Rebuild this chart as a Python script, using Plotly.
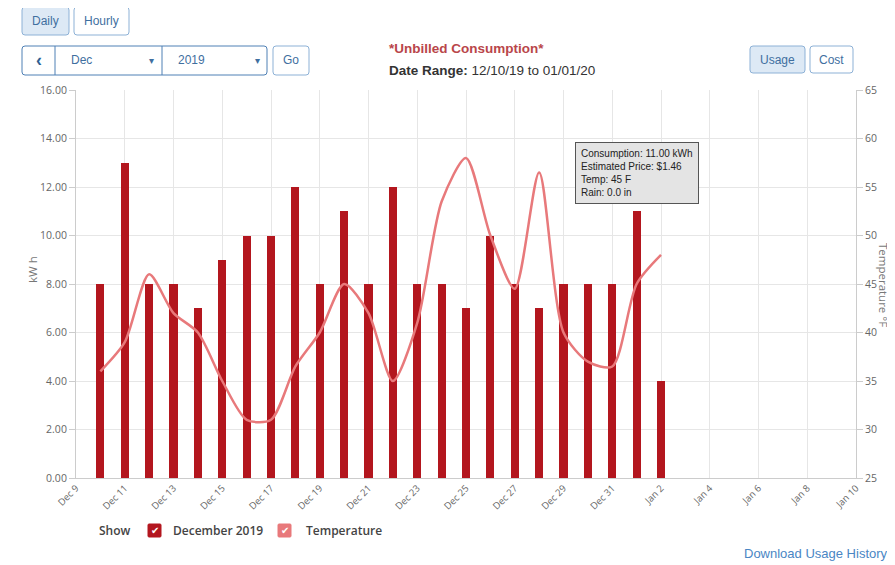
import plotly.graph_objects as go

# ---------------- data ----------------
dates = ["2019-12-10", "2019-12-11", "2019-12-12", "2019-12-13", "2019-12-14", "2019-12-15",
         "2019-12-16", "2019-12-17", "2019-12-18", "2019-12-19", "2019-12-20", "2019-12-21",
         "2019-12-22", "2019-12-23", "2019-12-24", "2019-12-25", "2019-12-26", "2019-12-27",
         "2019-12-28", "2019-12-29", "2019-12-30", "2019-12-31", "2020-01-01", "2020-01-02"]
usage_kwh = [8, 13, 8, 8, 7, 9, 10, 10, 12, 8, 11, 8, 12, 8, 8, 7, 10, 8, 7, 8, 8, 8, 11, 4]
temp_f = [36, 39, 46, 42, 40, 35, 31, 31, 36.5, 40, 45, 42, 35, 41, 53.5, 58, 50, 44.5, 56.5,
          40, 37, 36.5, 45, 48]

tick_dates = ["2019-12-09", "2019-12-11", "2019-12-13", "2019-12-15", "2019-12-17", "2019-12-19",
              "2019-12-21", "2019-12-23", "2019-12-25", "2019-12-27", "2019-12-29", "2019-12-31",
              "2020-01-02", "2020-01-04", "2020-01-06", "2020-01-08", "2020-01-10"]
tick_labels = ["Dec 9", "Dec 11", "Dec 13", "Dec 15", "Dec 17", "Dec 19", "Dec 21", "Dec 23",
               "Dec 25", "Dec 27", "Dec 29", "Dec 31", "Jan 2", "Jan 4", "Jan 6", "Jan 8", "Jan 10"]
kwh_ticks = [0, 2, 4, 6, 8, 10, 12, 14, 16]
temp_ticks = [25, 30, 35, 40, 45, 50, 55, 60, 65]

series_name = "December 2019"
temp_name = "Temperature"
tooltip_index = 22          # Jan 1
tooltip_price = 1.46
tooltip_rain = 0.0

# ---------------- layout helpers ----------------
OFF = 8                      # page body margin
W_PX, H_PX = 895 - OFF, 565 - OFF
L, R, T, B = 76, 856, 90, 478   # plot area in window pixels


def px(x):
    return (x - L) / (R - L)


def py(y):
    return (B - y) / (B - T)


BAR_COLOR = "#b3161e"
LINE_COLOR = "#e8797b"
GRID = "#e6e6e6"
AXIS = "#cccccc"
TICK_FONT = dict(family="Open Sans", size=10.5, color="#666666")

fig = go.Figure()

fig.add_trace(go.Bar(
    x=dates, y=usage_kwh, name=series_name,
    marker=dict(color=BAR_COLOR, line=dict(width=0)),
    width=0.33 * 86400000, yaxis="y", showlegend=False,
))
fig.add_trace(go.Scatter(
    x=dates, y=temp_f, name=temp_name, mode="lines",
    line=dict(color=LINE_COLOR, width=2.5, shape="spline", smoothing=0.75),
    yaxis="y2", showlegend=False,
))

shapes = []
annotations = []


def rrect(x0, y0, x1, y1, fill, line, r=3, lw=1):
    a0, a1 = px(x0), px(x1)
    b0, b1 = py(y0), py(y1)  # b0 top, b1 bottom
    rx = r / (R - L)
    ry = r / (B - T)
    path = (f"M{a0+rx},{b0} L{a1-rx},{b0} Q{a1},{b0} {a1},{b0-ry} "
            f"L{a1},{b1+ry} Q{a1},{b1} {a1-rx},{b1} L{a0+rx},{b1} "
            f"Q{a0},{b1} {a0},{b1+ry} L{a0},{b0-ry} Q{a0},{b0} {a0+rx},{b0} Z")
    shapes.append(dict(type="path", xref="paper", yref="paper", path=path,
                       fillcolor=fill, line=dict(color=line, width=lw), layer="above"))


def text(x, y, s, size=12, color="#333", family="Liberation Sans", xanchor="center",
         weight="normal", angle=0):
    annotations.append(dict(xref="paper", yref="paper", x=px(x), y=py(y), text=s,
                            showarrow=False, xanchor=xanchor, yanchor="middle",
                            textangle=angle,
                            font=dict(size=size, color=color, family=family, weight=weight)))


# top buttons
rrect(22, 7, 69, 35, "#dde9f5", "#8db1d6")
text(45.5, 21, "Daily", 12, "#3f6f9f")
rrect(74, 7, 129, 35, "#ffffff", "#8db1d6")
text(101.5, 21, "Hourly", 12, "#3f6f9f")

# navigation row
rrect(22, 46, 267, 75, "#ffffff", "#4f80b5")
shapes.append(dict(type="line", xref="paper", yref="paper", x0=px(55), x1=px(55),
                   y0=py(46), y1=py(75), line=dict(color="#4f80b5", width=1)))
shapes.append(dict(type="line", xref="paper", yref="paper", x0=px(162), x1=px(162),
                   y0=py(46), y1=py(75), line=dict(color="#4f80b5", width=1)))
text(38.5, 60, "<b>&#8249;</b>", 18, "#2f5f92")
text(69, 60, "Dec", 12, "#3f6f9f", xanchor="left")
text(151, 60, "▾", 10, "#3f6f9f")
text(176, 60, "2019", 12, "#3f6f9f", xanchor="left")
text(257, 60, "▾", 10, "#3f6f9f")
rrect(273, 46, 309, 75, "#ffffff", "#8db1d6")
text(291, 60, "Go", 12, "#3f6f9f")

# title block
text(387, 49, "<b>*Unbilled Consumption*</b>", 13.5, "#b9464a", xanchor="left")
text(387, 71, "<b>Date Range:</b> 12/10/19 to 01/01/20", 13.5, "#333333", xanchor="left")

# usage / cost
rrect(750, 46, 805, 73, "#dde9f5", "#8db1d6")
text(777.5, 60, "Usage", 12, "#3f6f9f")
rrect(810, 46, 853, 73, "#ffffff", "#8db1d6")
text(831.5, 60, "Cost", 12, "#3f6f9f")

# axis titles
text(32, 270, "kW h", 11.5, "#777777", family="Open Sans", angle=-90)
text(884, 285, "Temperature °F", 11.5, "#777777", family="Open Sans", angle=90)

# legend row
text(97, 530, "Show", 12, "#444444", family="Open Sans", xanchor="left", weight=600)
rrect(148, 524, 161, 537, BAR_COLOR, BAR_COLOR, r=1)
text(154.5, 530.5, "✔", 10, "#ffffff", family="DejaVu Sans")
text(171, 530, series_name, 12, "#444444", family="Open Sans", xanchor="left", weight=600)
rrect(278, 524, 291, 537, LINE_COLOR, LINE_COLOR, r=1)
text(284.5, 530.5, "✔", 10, "#ffffff", family="DejaVu Sans")
text(304, 530, temp_name, 12, "#444444", family="Open Sans", xanchor="left", weight=600)

# download link
text(890, 553, "Download Usage History", 13, "#4a86c4", xanchor="right")

# tooltip
tip = (f"Consumption: {usage_kwh[tooltip_index]:.2f} kWh<br>"
       f"Estimated Price: ${tooltip_price:.2f}<br>"
       f"Temp: {temp_f[tooltip_index]:g} F<br>"
       f"Rain: {tooltip_rain:.1f} in")
annotations.append(dict(xref="paper", yref="paper", x=px(575), y=py(142), text=tip,
                        showarrow=False, xanchor="left", yanchor="top", align="left",
                        bgcolor="#e4e4e4", bordercolor="#555555", borderwidth=1, borderpad=5,
                        font=dict(family="Liberation Sans", size=10, color="#222222")))

fig.update_layout(
    width=W_PX, height=H_PX, autosize=False,
    margin=dict(l=L - OFF, r=895 - R, t=T - OFF, b=565 - B, pad=0),
    paper_bgcolor="#ffffff", plot_bgcolor="#ffffff",
    bargap=0,
    xaxis=dict(type="date", range=[tick_dates[0], tick_dates[-1]],
               tickvals=tick_dates, ticktext=tick_labels, tickangle=-45,
               tickfont=dict(family="Open Sans", size=9.5, color="#666666"),
               showgrid=True, gridcolor=GRID, gridwidth=1,
               showline=True, linecolor=AXIS, linewidth=1, ticks="", zeroline=False),
    yaxis=dict(range=[kwh_ticks[0], kwh_ticks[-1]], tickvals=kwh_ticks, tickformat=".2f",
               tickfont=TICK_FONT, showgrid=True, gridcolor=GRID, gridwidth=1,
               showline=True, linecolor=AXIS, ticks="outside", ticklen=6, tickcolor=AXIS,
               zeroline=False),
    yaxis2=dict(range=[temp_ticks[0], temp_ticks[-1]], tickvals=temp_ticks,
                overlaying="y", side="right", tickfont=TICK_FONT, showgrid=False,
                showline=True, linecolor=AXIS, ticks="outside", ticklen=6, tickcolor=AXIS,
                zeroline=False),
    shapes=shapes,
    annotations=annotations,
    hovermode=False,
)

fig.write_html("out.html")
